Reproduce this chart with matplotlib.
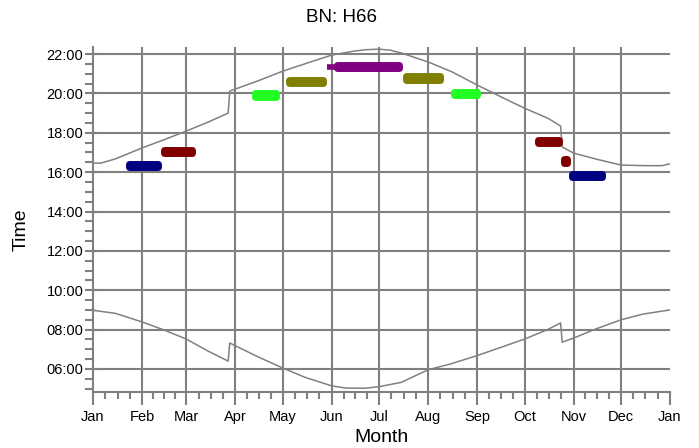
import matplotlib.pyplot as plt
import numpy as np

plt.rcParams['font.family'] = ['Liberation Sans', 'DejaVu Sans']

# jours de l'annee (0 = 1er janvier), annee non bissextile
month_days = [0, 31, 59, 90, 120, 151, 181, 212, 243, 273, 304, 334, 365]
month_labels = ['Jan', 'Feb', 'Mar', 'Apr', 'May', 'Jun', 'Jul', 'Aug',
                'Sep', 'Oct', 'Nov', 'Dec', 'Jan']

# coucher du soleil (heures decimales)
sunset_day = [0, 5, 14, 31, 45, 59, 73, 85.5, 86.5, 104, 120, 135, 151, 165, 172,
              181, 188, 196, 212, 227, 243, 258, 273, 288, 295.8, 296.8, 304, 319,
              334, 350, 360, 365]
sunset_h = [16.46, 16.46, 16.67, 17.23, 17.65, 18.09, 18.55, 19.0, 20.12, 20.63,
            21.13, 21.53, 21.95, 22.15, 22.22, 22.25, 22.2, 22.03, 21.6, 21.1,
            20.43, 19.83, 19.25, 18.73, 18.34, 17.28, 16.97, 16.65, 16.36, 16.33,
            16.33, 16.43]

# lever du soleil (heures decimales)
sunrise_day = [0, 1, 14, 31, 45, 59, 73, 85.5, 86.5, 104, 120, 134, 151, 160,
               172, 181, 195, 212, 226, 243, 257, 273, 287, 295.8, 296.8, 304,
               318, 334, 348, 365]
sunrise_h = [9.05, 8.97, 8.83, 8.39, 7.98, 7.52, 6.9, 6.4, 7.32, 6.63, 6.05,
             5.58, 5.14, 5.03, 5.02, 5.1, 5.32, 5.96, 6.25, 6.68, 7.07, 7.52,
             7.98, 8.34, 7.36, 7.57, 8.03, 8.5, 8.79, 9.0]

# creneaux d'observation : debut, fin (jours), heure
slot_start = [20.7, 42.4, 100.4, 122.0, 146.0, 152.0, 195.5, 226.0, 279.0, 296.0, 301.0]
slot_end = [43.4, 65.1, 117.9, 147.4, 157.0, 195.5, 221.4, 245.0, 297.0, 302.0, 324.0]
slot_time = [16.35, 17.06, 19.92, 20.60, 21.34, 21.37, 20.78, 19.99, 17.55, 16.57, 15.83]
slot_color = ['#000080', '#800000', '#22ff22', '#808000', '#800080', '#800080',
              '#808000', '#22ff22', '#800000', '#800000', '#000080']
slot_thick = [0.18, 0.18, 0.18, 0.18, 0.0, 0.18, 0.18, 0.18, 0.18, 0.18, 0.18]

gris = '#808080'

fig = plt.figure(figsize=(6.99, 4.48), dpi=100)
ax = fig.add_axes([93 / 699, 56 / 448, 577 / 699, 345 / 448])

ax.set_xlim(0, 365)
ax.set_ylim(4.83, 22.36)

# grille
for h in range(6, 23, 2):
    ax.axhline(h, color=gris, lw=1.5, zorder=1)
for d in month_days[1:-1]:
    ax.axvline(d, color=gris, lw=1.5, zorder=1)

# lever / coucher
ax.plot(sunset_day, sunset_h, color=gris, lw=1.1, zorder=2)
ax.plot(sunrise_day, sunrise_h, color=gris, lw=1.1, zorder=2)

# creneaux (bords arrondis)
edge = 5.0  # pt
inset = 2.2  # jours
for s, e, t, c, th in zip(slot_start, slot_end, slot_time, slot_color, slot_thick):
    w = max(e - s - 2 * inset, 0.2)
    ax.barh(t, w, left=(s + e) / 2 - w / 2, height=max(th, 0.01), color=c,
            edgecolor=c, linewidth=edge if th > 0 else 4.0, joinstyle='round',
            zorder=3)

# axes
for sp in ['top', 'right']:
    ax.spines[sp].set_visible(False)
for sp in ['left', 'bottom']:
    ax.spines[sp].set_color(gris)
    ax.spines[sp].set_linewidth(1.5)

ax.set_xticks(month_days)
ax.set_xticklabels(month_labels)
quarts = []
for i in range(12):
    a, b = month_days[i], month_days[i + 1]
    quarts += [a + (b - a) * k / 4 for k in (1, 2, 3)]
ax.set_xticks(quarts, minor=True)

ax.set_yticks(range(6, 23, 2))
ax.set_yticklabels(['%02d:00' % h for h in range(6, 23, 2)])
ax.set_yticks(np.arange(5, 22.01, 0.5), minor=True)

ax.tick_params(axis='x', which='major', length=9, width=1.5, color=gris,
               labelsize=10.5, pad=4)
ax.tick_params(axis='x', which='minor', length=5, width=1.5, color=gris)
ax.tick_params(axis='y', which='major', direction='inout', length=12, width=1.5,
               color=gris, labelsize=10.5, pad=1)
ax.tick_params(axis='y', which='minor', length=6, width=1.5, color=gris)

fig.text(342 / 699, 1 - 18 / 448, 'BN: H66', ha='center', va='center', fontsize=13.5)
fig.text(381 / 699, 1 - 437 / 448, 'Month', ha='center', va='center', fontsize=14)
fig.text(21 / 699, 1 - 230 / 448, 'Time', ha='center', va='center', fontsize=14,
         rotation=90)

fig.savefig('out.png', dpi=100)
